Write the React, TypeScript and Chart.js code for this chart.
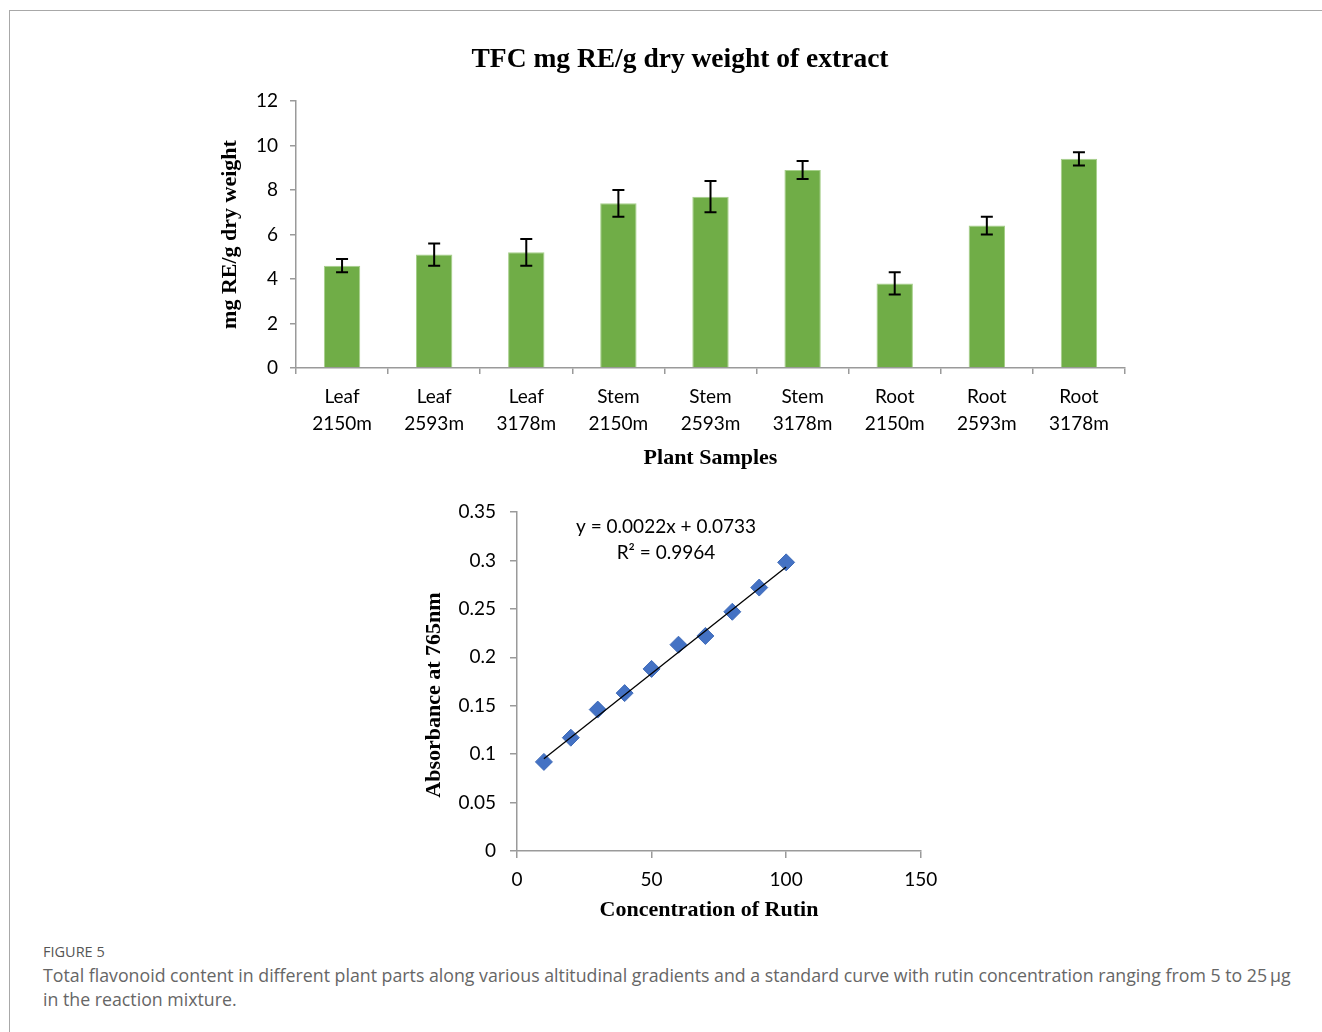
import { useEffect, useRef } from "react";
import { Chart, registerables } from "chart.js";

Chart.register(...registerables);

// ---- Total flavonoid content per plant sample ----
const sampleLabels = [
  ["Leaf", "2150m"],
  ["Leaf", "2593m"],
  ["Leaf", "3178m"],
  ["Stem", "2150m"],
  ["Stem", "2593m"],
  ["Stem", "3178m"],
  ["Root", "2150m"],
  ["Root", "2593m"],
  ["Root", "3178m"],
];
const tfcMeans = [4.6, 5.1, 5.2, 7.4, 7.7, 8.9, 3.8, 6.4, 9.4];
const tfcErrors = [0.3, 0.5, 0.6, 0.6, 0.7, 0.4, 0.5, 0.4, 0.3];
const tfcAxisMax = 12;
const tfcAxisStep = 2;

// ---- Rutin standard curve ----
const rutinConc = [10, 20, 30, 40, 50, 60, 70, 80, 90, 100];
const absorbance = [0.092, 0.117, 0.146, 0.163, 0.188, 0.213, 0.222, 0.247, 0.272, 0.298];
const fitSlope = 0.0022;
const fitIntercept = 0.0733;
const fitR2 = 0.9964;
const fitRange = [10, 100];
const concAxisMax = 150;
const concAxisStep = 50;
const absAxisMax = 0.35;
const absAxisStep = 0.05;

const AXIS_GREY = "#9a9a9a";
const SANS = "Lato";
const SERIF = "'Liberation Serif'";

function errorBarPlugin(errors: number[]) {
  return {
    id: "errorBars",
    afterDatasetsDraw(chart: any) {
      const meta = chart.getDatasetMeta(0);
      const y = chart.scales.y;
      const ctx = chart.ctx;
      const values = chart.data.datasets[0].data as number[];
      ctx.save();
      ctx.strokeStyle = "#000";
      ctx.lineWidth = 2;
      meta.data.forEach((bar: any, i: number) => {
        const v = values[i];
        const e = errors[i];
        const top = y.getPixelForValue(v + e);
        const bot = y.getPixelForValue(v - e);
        const x = bar.x;
        const c = 6;
        ctx.beginPath();
        ctx.moveTo(x, top);
        ctx.lineTo(x, bot);
        ctx.moveTo(x - c, top);
        ctx.lineTo(x + c, top);
        ctx.moveTo(x - c, bot);
        ctx.lineTo(x + c, bot);
        ctx.stroke();
      });
      ctx.restore();
    },
  };
}

type Caption = { text: string; dx: number; dy: number; font: string; rotate?: number };

// Free text placed relative to the plot area's top-left corner
function captionPlugin(items: Caption[]) {
  return {
    id: "captions",
    afterDraw(chart: any) {
      const { ctx, chartArea } = chart;
      for (const t of items) {
        ctx.save();
        ctx.font = t.font;
        ctx.fillStyle = "#000";
        ctx.textAlign = "center";
        ctx.textBaseline = "middle";
        ctx.translate(chartArea.left + t.dx, chartArea.top + t.dy);
        if (t.rotate) ctx.rotate(t.rotate);
        ctx.fillText(t.text, 0, 0);
        ctx.restore();
      }
    },
  };
}

function TfcBarChart() {
  const ref = useRef<HTMLCanvasElement | null>(null);
  useEffect(() => {
    if (!ref.current) return;
    const chart = new Chart(ref.current, {
      type: "bar",
      data: {
        labels: sampleLabels,
        datasets: [
          {
            data: tfcMeans,
            backgroundColor: "#70AD47",
            borderColor: "#a6cf8a",
            borderWidth: 1,
            categoryPercentage: 1,
            barPercentage: 0.395,
          },
        ],
      },
      options: {
        responsive: false,
        animation: false,
        layout: { padding: { left: 0, right: 35, top: 71, bottom: 0 } },
        plugins: {
          legend: { display: false },
          tooltip: { enabled: false },
          title: { display: false },
        },
        scales: {
          x: {
            grid: {
              display: true,
              drawOnChartArea: false,
              drawTicks: true,
              tickLength: 6,
              color: AXIS_GREY,
              lineWidth: 1.5,
              offset: true,
            },
            border: { display: true, color: AXIS_GREY, width: 1.5 },
            ticks: {
              color: "#000",
              font: { family: SANS, size: 19, lineHeight: 1.42 },
              padding: 9.5,
              maxRotation: 0,
              autoSkip: false,
            },
            title: {
              display: true,
              text: "Plant Samples",
              color: "#000",
              font: { family: SERIF, size: 22, weight: "bold", lineHeight: 1.2 },
              padding: { top: 0, bottom: 8.5 },
            },
            afterFit: (s: any) => {
              s.height = 112;
            },
          },
          y: {
            min: 0,
            max: tfcAxisMax,
            ticks: {
              stepSize: tfcAxisStep,
              color: "#000",
              font: { family: SANS, size: 19 },
              padding: 12,
            },
            grid: {
              display: true,
              drawOnChartArea: false,
              drawTicks: true,
              tickLength: 6,
              color: AXIS_GREY,
              lineWidth: 1.5,
            },
            border: { display: true, color: AXIS_GREY, width: 1.5 },
            title: {
              display: true,
              text: "mg RE/g dry weight",
              color: "#000",
              font: { family: SERIF, size: 22, weight: "bold", lineHeight: 1.2 },
              padding: { top: 16.8, bottom: 0 },
            },
            afterFit: (s: any) => {
              s.width = 96;
            },
          },
        },
      },
      plugins: [
        errorBarPlugin(tfcErrors),
        captionPlugin([
          {
            text: "TFC mg RE/g dry weight of extract",
            dx: 384,
            dy: -41,
            font: `bold 27.5px ${SERIF}`,
          },
        ]),
      ],
    } as any);
    return () => chart.destroy();
  }, []);
  return (
    <canvas
      ref={ref}
      width={960}
      height={450}
      style={{ position: "absolute", left: 200, top: 30, width: 960, height: 450 }}
    />
  );
}

function RutinCurveChart() {
  const ref = useRef<HTMLCanvasElement | null>(null);
  useEffect(() => {
    if (!ref.current) return;
    const points = rutinConc.map((x, i) => ({ x, y: absorbance[i] }));
    const fitLine = fitRange.map((x) => ({ x, y: fitSlope * x + fitIntercept }));
    const chart = new Chart(ref.current, {
      type: "scatter",
      data: {
        datasets: [
          {
            type: "line",
            data: fitLine,
            borderColor: "#000",
            borderWidth: 1.3,
            pointRadius: 0,
            fill: false,
          },
          {
            data: points,
            pointStyle: "rectRot",
            pointRadius: 8.5,
            backgroundColor: "#4472C4",
            borderColor: "#3f6bb8",
            borderWidth: 1,
          },
        ],
      },
      options: {
        responsive: false,
        animation: false,
        layout: { padding: { left: 0, right: 39.3, top: 32, bottom: 0 } },
        plugins: {
          legend: { display: false },
          tooltip: { enabled: false },
        },
        scales: {
          x: {
            type: "linear",
            min: 0,
            max: concAxisMax,
            ticks: {
              stepSize: concAxisStep,
              color: "#000",
              font: { family: SANS, size: 19 },
              padding: 10,
            },
            grid: {
              display: true,
              drawOnChartArea: false,
              drawTicks: true,
              tickLength: 7,
              color: AXIS_GREY,
              lineWidth: 1.5,
            },
            border: { display: true, color: AXIS_GREY, width: 1.5 },
            afterFit: (s: any) => {
              s.height = 89;
            },
          },
          y: {
            type: "linear",
            min: 0,
            max: absAxisMax,
            ticks: {
              stepSize: absAxisStep,
              color: "#000",
              font: { family: SANS, size: 19 },
              padding: 14,
              callback: (v: any) => String(Number(Number(v).toFixed(2))),
            },
            grid: {
              display: true,
              drawOnChartArea: false,
              drawTicks: true,
              tickLength: 7,
              color: AXIS_GREY,
              lineWidth: 1.5,
            },
            border: { display: true, color: AXIS_GREY, width: 1.5 },
            afterFit: (s: any) => {
              s.width = 117;
            },
          },
        },
      },
      plugins: [
        captionPlugin([
          { text: `y = ${fitSlope}x + ${fitIntercept}`, dx: 149, dy: 15, font: `19px ${SANS}` },
          { text: `R² = ${fitR2}`, dx: 149, dy: 41, font: `19px ${SANS}` },
          {
            text: "Absorbance at 765nm",
            dx: -83,
            dy: 183,
            font: `bold 22px ${SERIF}`,
            rotate: -Math.PI / 2,
          },
          { text: "Concentration of Rutin", dx: 192, dy: 398, font: `bold 22px ${SERIF}` },
        ]),
      ],
    } as any);
    return () => chart.destroy();
  }, []);
  return (
    <canvas
      ref={ref}
      width={560}
      height={460}
      style={{ position: "absolute", left: 400, top: 480, width: 560, height: 460 }}
    />
  );
}

export default function App() {
  return (
    <div
      style={{
        position: "absolute",
        left: 0,
        top: 0,
        width: 1322,
        height: 1032,
        background: "#fff",
        overflow: "hidden",
      }}
    >
      <div
        style={{
          position: "absolute",
          left: 9,
          top: 10,
          width: 1320,
          height: 1030,
          borderTop: "1px solid #a8a8a8",
          borderLeft: "1px solid #a8a8a8",
        }}
      />
      <TfcBarChart />
      <RutinCurveChart />
      <div
        style={{
          position: "absolute",
          left: 43,
          top: 944,
          fontFamily: "'Open Sans'",
          fontSize: 14.5,
          lineHeight: "16px",
          color: "#555",
        }}
      >
        FIGURE 5
      </div>
      <div
        style={{
          position: "absolute",
          left: 43,
          top: 963,
          width: 1275,
          fontFamily: "'Open Sans'",
          fontSize: 17.75,
          lineHeight: "24px",
          color: "#666",
          whiteSpace: "nowrap",
        }}
      >
        Total flavonoid content in different plant parts along various altitudinal gradients and a
        standard curve with rutin concentration ranging from 5 to 25{"\u2009"}µg
        <br />
        in the reaction mixture.
      </div>
    </div>
  );
}
